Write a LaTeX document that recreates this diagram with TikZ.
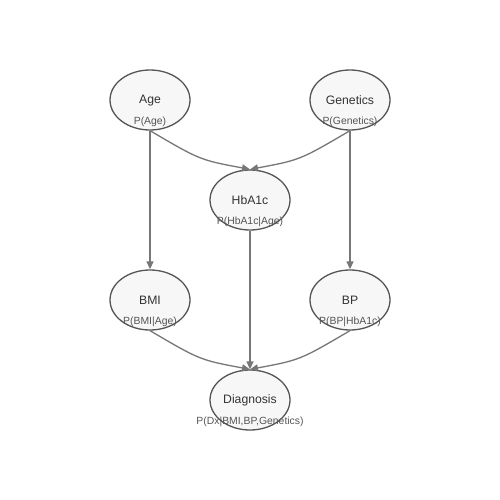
\documentclass[tikz,border=0pt]{standalone}
\usepackage{fontspec}
\setmainfont{Liberation Sans}
\usetikzlibrary{shapes.geometric,arrows.meta}
\definecolor{nodefill}{HTML}{F7F7F7}
\definecolor{nodeline}{HTML}{555555}
\definecolor{edgecol}{HTML}{777777}
\definecolor{namecol}{HTML}{333333}
\definecolor{probcol}{HTML}{555555}
\begin{document}
\begin{tikzpicture}[x=1pt,y=-1pt,
  var/.style={ellipse,draw=nodeline,fill=nodefill,line width=1.3pt,minimum width=80pt,minimum height=60pt,inner sep=0pt},
  vname/.style={text=namecol,font=\fontsize{12.2}{14}\selectfont,inner sep=0pt},
  prob/.style={text=probcol,font=\fontsize{10.4}{12}\selectfont,inner sep=0pt},
  edge/.style={draw=edgecol,line width=1.3pt,-{Triangle[length=8pt,width=7pt]}}]
\useasboundingbox (0,0) rectangle (500,500);
\fill[white] (0,0) rectangle (500,500);
\node[var] (age) at (150,100) {};
\node[var] (gen) at (350,100) {};
\node[var] (hba) at (250,200) {};
\node[var] (bmi) at (150,300) {};
\node[var] (bp) at (350,300) {};
\node[var] (dx) at (250,400) {};
\foreach \n/\t/\p in {age/Age/P(Age),gen/Genetics/P(Genetics),hba/HbA1c/P(HbA1c|Age),bmi/BMI/P(BMI|Age),bp/BP/P(BP|HbA1c),dx/Diagnosis/P(Dx|BMI{,}BP{,}Genetics)}{
  \node[vname] (\n-name) at ([yshift=-0.3pt]\n.center) {\t};
  \node[prob] (\n-prob) at ([yshift=-22pt]\n.center) {\p};
}
\draw[edge] (age.south) .. controls (200,160) .. (hba.north);
\draw[edge] (gen.south) .. controls (300,160) .. (hba.north);
\draw[edge] (age.south) -- (bmi.north);
\draw[edge] (gen.south) -- (bp.north);
\draw[edge] (hba.south) -- (dx.north);
\draw[edge] (bmi.south) .. controls (200,360) .. (dx.north);
\draw[edge] (bp.south) .. controls (300,360) .. (dx.north);
\end{tikzpicture}
\end{document}
